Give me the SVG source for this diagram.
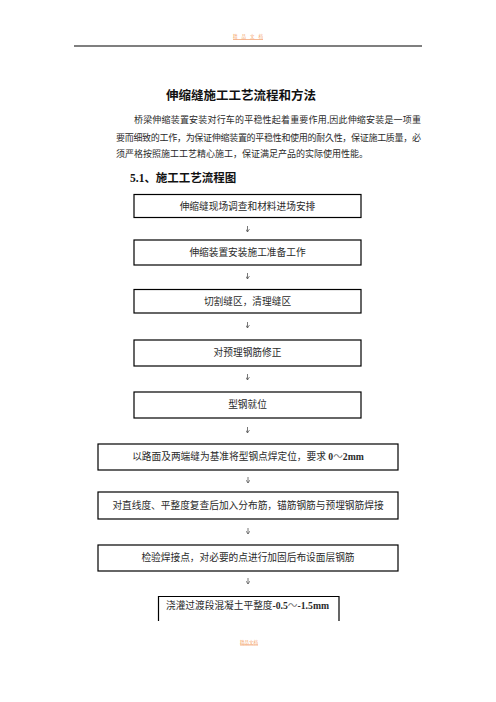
<svg xmlns="http://www.w3.org/2000/svg" width="496" height="702" viewBox="0 0 496 702">
<style>
.box{fill:#fff;stroke:#000;stroke-width:1.2}
.t{font-family:"Liberation Serif","Noto Sans CJK SC",serif;font-size:9.7px;fill:#2a2a2a;text-anchor:middle}
.p{font-family:"Liberation Serif","Noto Sans CJK SC",serif;font-size:9px;fill:#2a2a2a}
.h{font-family:"Liberation Serif","Noto Sans CJK SC",serif;font-weight:bold;fill:#111}
.num{font-weight:bold}
.tl{font-weight:normal;fill:#777}
.arr{stroke:#555;stroke-width:0.8;fill:none}
.orn{font-family:"Noto Sans CJK SC",sans-serif;font-size:4.5px;fill:#f5a66a}
</style>
<defs>
<marker id="ah" markerWidth="4" markerHeight="4" refX="3" refY="2" orient="auto" markerUnits="userSpaceOnUse"><path d="M0,0 L3,2 L0,4" fill="none" stroke="#555" stroke-width="0.7"/></marker>
</defs>
<g id="page-header">
<text class="orn" x="233" y="38" textLength="30">精品文档</text>
<line x1="233" y1="39.5" x2="263" y2="39.5" stroke="#f08a4b" stroke-width="0.6"/>
<line x1="74" y1="46" x2="422" y2="46" stroke="#000" stroke-width="1.2"/>
</g>
<g id="title">
<text class="h" x="241" y="99.5" font-size="12.5" text-anchor="middle">伸缩缝施工工艺流程和方法</text>
</g>
<g id="intro">
<text class="p" x="134" y="123" textLength="287" lengthAdjust="spacing">桥梁伸缩装置安装对行车的平稳性起着重要作用,因此伸缩安装是一项重</text>
<text class="p" x="116" y="140.5" textLength="305" lengthAdjust="spacing">要而细致的工作，为保证伸缩装置的平稳性和使用的耐久性，保证施工质量，必</text>
<text class="p" x="116" y="157">须严格按照施工工艺精心施工，保证满足产品的实际使用性能。</text>
</g>
<g id="section">
<text class="h" x="130" y="182" font-size="11.5">5.1、施工工艺流程图</text>
</g>
<g id="connectors">
<line class="arr" x1="247.5" y1="226" x2="247.5" y2="232" marker-end="url(#ah)"/>
<line class="arr" x1="247.5" y1="273" x2="247.5" y2="279" marker-end="url(#ah)"/>
<line class="arr" x1="247.5" y1="322" x2="247.5" y2="328" marker-end="url(#ah)"/>
<line class="arr" x1="247.5" y1="374" x2="247.5" y2="380" marker-end="url(#ah)"/>
<line class="arr" x1="247.5" y1="427" x2="247.5" y2="433" marker-end="url(#ah)"/>
<line class="arr" x1="248" y1="477" x2="248" y2="483" marker-end="url(#ah)"/>
<line class="arr" x1="248" y1="528" x2="248" y2="534" marker-end="url(#ah)"/>
<line class="arr" x1="248" y1="578" x2="248" y2="584" marker-end="url(#ah)"/>
</g>
<g id="n1">
<rect class="box" x="134" y="194.5" width="227" height="23"/>
<text class="t" x="247.5" y="209.5">伸缩缝现场调查和材料进场安排</text>
</g>
<g id="n2">
<rect class="box" x="134" y="240" width="227" height="25"/>
<text class="t" x="247.5" y="256">伸缩装置安装施工准备工作</text>
</g>
<g id="n3">
<rect class="box" x="134" y="289.5" width="227" height="23.5"/>
<text class="t" x="247.5" y="304.5">切割缝区，清理缝区</text>
</g>
<g id="n4">
<rect class="box" x="134" y="340" width="227" height="26"/>
<text class="t" x="247.5" y="356">对预理钢筋修正</text>
</g>
<g id="n5">
<rect class="box" x="134" y="392" width="227" height="26"/>
<text class="t" x="247.5" y="408">型钢就位</text>
</g>
<g id="n6">
<rect class="box" x="98" y="444" width="300" height="26"/>
<text class="t" x="248" y="460">以路面及两端缝为基准将型钢点焊定位，要求 <tspan class="num">0<tspan class="tl">～</tspan>2mm</tspan></text>
</g>
<g id="n7">
<rect class="box" x="98" y="492" width="300" height="27"/>
<text class="t" x="248" y="508.5">对直线度、平整度复查后加入分布筋，锚筋钢筋与预埋钢筋焊接</text>
</g>
<g id="n8">
<rect class="box" x="98" y="545" width="300" height="26"/>
<text class="t" x="248" y="561">检验焊接点，对必要的点进行加固后布设面层钢筋</text>
</g>
<g id="n9">
<path class="box" d="M158.5,621 V596.5 H339 V621"/>
<text class="t" x="247.5" y="609">浇灌过渡段混凝土平整度<tspan class="num">-0.5<tspan class="tl">～</tspan>-1.5mm</tspan></text>
</g>
<g id="page-footer">
<text class="orn" x="240" y="643.5" textLength="18">精品文档</text>
<line x1="240" y1="645" x2="258" y2="645" stroke="#f08a4b" stroke-width="0.6"/>
</g>
</svg>
